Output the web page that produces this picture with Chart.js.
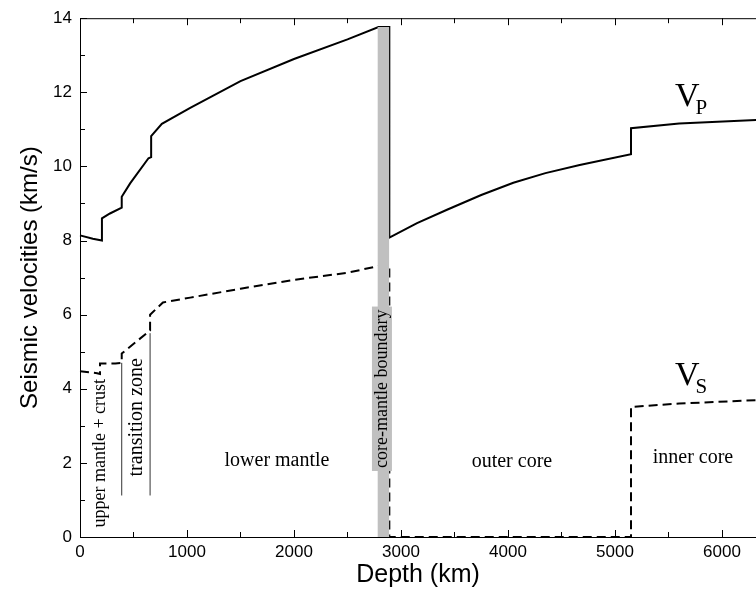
<!DOCTYPE html>
<html>
<head>
<meta charset="utf-8">
<script src="https://cdn.jsdelivr.net/npm/chart.js@4/dist/chart.umd.min.js"></script>
<style>
    html, body { margin: 0; padding: 0; background: #fff; }
    #wrap { width: 756px; height: 590px; }
</style>
</head>
<body>
<div id="wrap"><canvas id="seismicChart"></canvas></div>
<script>
// Vitesses sismiques (profil type PREM)
const depthP = [0, 120, 205, 205, 280, 390, 390, 470, 640, 665, 665, 765, 1030, 1500, 2000, 2500, 2790, 2891, 2891, 3150, 3430, 3750, 4050, 4350, 4670, 5150, 5150, 5600, 6371];
const velP = [8.14, 8.05, 8.0, 8.6, 8.73, 8.89, 9.18, 9.55, 10.22, 10.25, 10.82, 11.15, 11.58, 12.3, 12.9, 13.43, 13.76, 13.76, 8.08, 8.47, 8.83, 9.23, 9.56, 9.82, 10.04, 10.33, 11.03, 11.16, 11.26];

const depthS = [0, 160, 187, 187, 330, 390, 390, 640, 655, 655, 775, 1030, 1500, 2000, 2500, 2800, 2891, 2891, 5150, 5150, 5600, 6371];
const velS = [4.47, 4.42, 4.4, 4.68, 4.68, 4.7, 4.95, 5.54, 5.57, 6.0, 6.33, 6.46, 6.7, 6.94, 7.13, 7.32, 7.32, 0, 0, 3.51, 3.6, 3.7];

// bande grise de la limite noyau-manteau
const cmbDepths = [2780, 2891];
const cmbTop = 13.76;

// traits verticaux de la zone de transition
const zoneDepths = [390, 655];
const zoneTops = [4.7, 5.5];
const zoneBottom = 1.12;

const depthTicks = [0, 1000, 2000, 3000, 4000, 5000, 6000];
const velTicks = [0, 2, 4, 6, 8, 10, 12, 14];

const regionLabels = ['upper mantle + crust', 'transition zone', 'lower mantle', 'core-mantle boundary', 'outer core', 'inner core'];

const toPoints = (xs, ys) => xs.map((d, i) => ({ x: d, y: ys[i] }));

const serif = '"Liberation Serif", "Times New Roman", serif';
const sans = '"Liberation Sans", Arial, sans-serif';

const decorations = {
    id: 'decorations',
    afterDatasetsDraw(chart) {
        const { ctx, chartArea: a, scales: { x, y } } = chart;
        ctx.save();
        ctx.strokeStyle = '#000';
        ctx.lineWidth = 1;

        // cadre du haut + graduations vers l'intérieur
        ctx.beginPath();
        ctx.moveTo(a.left, a.top + 0.5);
        ctx.lineTo(a.right, a.top + 0.5);
        for (let d = 0; d <= x.max; d += 500) {
            const px = Math.round(x.getPixelForValue(d)) + 0.5;
            const len = d % 1000 === 0 ? 7 : 5;
            ctx.moveTo(px, a.bottom);
            ctx.lineTo(px, a.bottom - len);
            ctx.moveTo(px, a.top);
            ctx.lineTo(px, a.top + len);
        }
        for (let v = 0; v <= 14; v++) {
            const py = Math.round(y.getPixelForValue(v)) + 0.5;
            ctx.moveTo(a.left, py);
            ctx.lineTo(a.left + (v % 2 === 0 ? 7 : 5), py);
        }
        ctx.stroke();

        const text = (str, d, v, size, rot) => {
            ctx.save();
            ctx.translate(x.getPixelForValue(d), y.getPixelForValue(v));
            if (rot) ctx.rotate(-Math.PI / 2);
            ctx.font = size + 'px ' + serif;
            ctx.fillStyle = '#000';
            ctx.textAlign = 'center';
            ctx.textBaseline = 'middle';
            ctx.fillText(str, 0, 0);
            ctx.restore();
        };

        text(regionLabels[0], 187, 2.26, 18, true);
        text(regionLabels[1], 533, 3.23, 20, true);
        text(regionLabels[2], 1841, 2.07, 20, false);

        // étiquette de la limite noyau-manteau sur fond gris
        ctx.save();
        ctx.font = '18px ' + serif;
        const w = ctx.measureText(regionLabels[3]).width;
        const cx = x.getPixelForValue(2822);
        const cy = y.getPixelForValue(4.0);
        ctx.fillStyle = '#c0c0c0';
        ctx.fillRect(cx - 10, cy - w / 2 - 3, 20, w + 6);
        ctx.restore();
        text(regionLabels[3], 2822, 4.0, 18, true);

        text(regionLabels[4], 4037, 2.02, 20, false);
        text(regionLabels[5], 5729, 2.13, 20, false);

        // V_P et V_S
        const vLabel = (sub, d, v) => {
            const px = x.getPixelForValue(d);
            const py = y.getPixelForValue(v);
            ctx.fillStyle = '#000';
            ctx.textAlign = 'left';
            ctx.textBaseline = 'alphabetic';
            ctx.font = '34px ' + serif;
            ctx.fillText('V', px, py);
            const vw = ctx.measureText('V').width;
            ctx.font = '21px ' + serif;
            ctx.fillText(sub, px + vw - 4, py + 8);
        };
        vLabel('P', 5561, 11.63);
        vLabel('S', 5561, 4.09);

        ctx.restore();
    },
};

const seismicCanvas = document.querySelector('#seismicChart');

if (seismicCanvas && typeof Chart !== 'undefined') {
    const seismicChart = new Chart(seismicCanvas, {
        type: 'line',
        data: {
            datasets: [
                {
                    label: 'CMB',
                    data: toPoints(cmbDepths, cmbDepths.map(() => cmbTop)),
                    borderWidth: 0,
                    backgroundColor: '#c0c0c0',
                    fill: 'origin',
                    pointRadius: 0,
                },
                {
                    label: 'transition 400',
                    data: toPoints([zoneDepths[0], zoneDepths[0]], [zoneBottom, zoneTops[0]]),
                    borderColor: '#333',
                    borderWidth: 1,
                    pointRadius: 0,
                },
                {
                    label: 'transition 670',
                    data: toPoints([zoneDepths[1], zoneDepths[1]], [zoneBottom, zoneTops[1]]),
                    borderColor: '#333',
                    borderWidth: 1,
                    pointRadius: 0,
                },
                {
                    label: 'Vp',
                    data: toPoints(depthP, velP),
                    borderColor: '#000',
                    borderWidth: 2,
                    pointRadius: 0,
                    tension: 0,
                    clip: 3,
                },
                {
                    label: 'Vs',
                    data: toPoints(depthS, velS),
                    borderColor: '#000',
                    borderWidth: 2,
                    borderDash: [9, 5],
                    pointRadius: 0,
                    tension: 0,
                    clip: 3,
                },
            ],
        },
        options: {
            responsive: true,
            maintainAspectRatio: false,
            animation: false,
            layout: { padding: { top: 14, right: 0, left: 0, bottom: 0 } },
            scales: {
                x: {
                    type: 'linear',
                    min: 0,
                    max: 6318,
                    grid: { display: false, drawTicks: false },
                    border: { display: true, color: '#000', width: 1 },
                    ticks: { includeBounds: false, color: '#000', padding: 5, font: { family: sans, size: 17 }, maxRotation: 0, callback: (v) => String(v) },
                    afterBuildTicks: (s) => { s.ticks = depthTicks.map((v) => ({ value: v })); },
                    afterFit: (s) => { s.height = 53; },
                    title: { display: true, text: 'Depth (km)', color: '#000', font: { family: sans, size: 25 }, padding: { top: 0, bottom: 0 } },
                },
                y: {
                    type: 'linear',
                    min: 0,
                    max: 14,
                    grid: { display: false, drawTicks: false },
                    border: { display: true, color: '#000', width: 1 },
                    ticks: { color: '#000', padding: 8, font: { family: sans, size: 17 }, callback: (v) => String(v) },
                    afterBuildTicks: (s) => { s.ticks = velTicks.map((v) => ({ value: v })); },
                    afterFit: (s) => { s.width = 80; },
                    title: { display: true, text: 'Seismic velocities (km/s)', color: '#000', font: { family: sans, size: 24 }, padding: { top: 16, bottom: 0 } },
                },
            },
            plugins: {
                legend: { display: false },
                tooltip: { enabled: false },
            },
        },
        plugins: [decorations],
    });
}
</script>
</body>
</html>
